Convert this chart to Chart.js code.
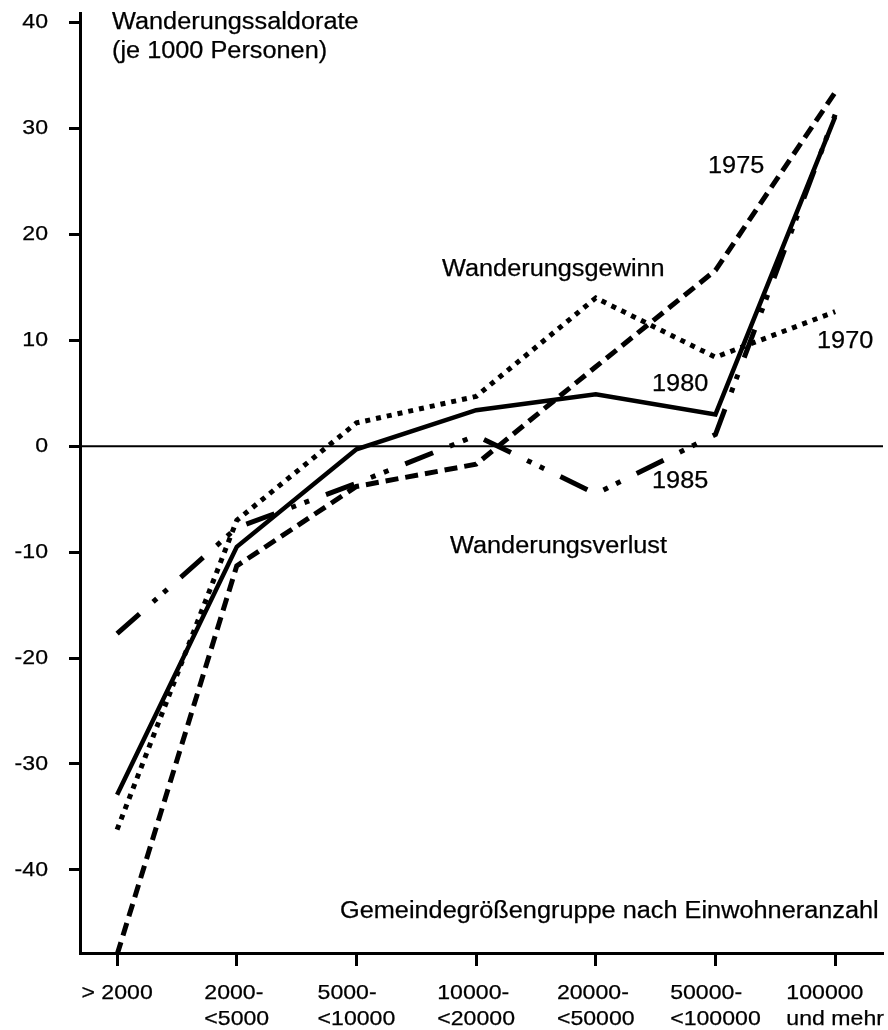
<!DOCTYPE html>
<html lang="de">
<head>
<meta charset="utf-8">
<title>Wanderungssaldorate nach Gemeindegrößengruppe</title>
<script src="https://cdn.jsdelivr.net/npm/chart.js@4.4.1/dist/chart.umd.min.js"></script>
<style>
  html, body { margin: 0; padding: 0; background: #fff; }
  #wrap { width: 888px; height: 1030px; }
</style>
</head>
<body>
<div id="wrap"><canvas id="chart" width="888" height="1030"></canvas></div>
<script>
// Gemeindegrößengruppen (x-Achse)
const categories = [
  ['> 2000'],
  ['2000-', '<5000'],
  ['5000-', '<10000'],
  ['10000-', '<20000'],
  ['20000-', '<50000'],
  ['50000-', '<100000'],
  ['100000', 'und mehr'],
]
const yTicks = [-40, -30, -20, -10, 0, 10, 20, 30, 40]

// Wanderungssaldorate je 1000 Personen
const werte1970 = [-36.2, -7.0, 2.2, 4.7, 14.0, 8.4, 12.7]
const werte1975 = [-48.0, -11.3, -3.8, -1.7, 7.5, 16.6, 33.4]
const werte1980 = [-32.9, -9.5, -0.3, 3.4, 4.9, 3.0, 31.1]
const werte1985 = [-17.7, -7.7, -3.5, 1.0, -4.5, 1.1, 31.3]

const FONT = '"Liberation Sans", Arial, sans-serif'
const STRETCH = 1.1

function drawText(ctx, text, x, y, align, size) {
  ctx.save()
  ctx.font = size + 'px ' + FONT
  ctx.fillStyle = '#000'
  ctx.strokeStyle = '#000'
  ctx.lineWidth = 0.25
  ctx.textBaseline = 'middle'
  ctx.textAlign = align
  ctx.translate(x, y)
  ctx.scale(STRETCH, 1)
  ctx.fillText(text, 0, 0)
  ctx.strokeText(text, 0, 0)
  ctx.restore()
}

function textBreite(ctx, text, size) {
  ctx.save()
  ctx.font = size + 'px ' + FONT
  const w = ctx.measureText(text).width * STRETCH
  ctx.restore()
  return w
}

function punkte(werte) {
  return werte.map((v, i) => ({ x: i, y: v }))
}

// Nulllinie, Achsenbeschriftungen und Texte
const beschriftung = {
  id: 'beschriftung',
  beforeDatasetsDraw(chart) {
    const ctx = chart.ctx
    const y0 = chart.scales.y.getPixelForValue(0)
    ctx.save()
    ctx.strokeStyle = '#000'
    ctx.lineWidth = 2
    ctx.beginPath()
    ctx.moveTo(chart.chartArea.left, y0)
    ctx.lineTo(chart.chartArea.right, y0)
    ctx.stroke()
    ctx.restore()
  },
  afterDraw(chart) {
    const ctx = chart.ctx
    const sx = chart.scales.x
    const sy = chart.scales.y

    yTicks.forEach((t) => {
      drawText(ctx, String(t), 48, sy.getPixelForValue(t), 'right', 21)
    })

    // Zeilen linksbündig, Block mittig unter dem Teilstrich
    categories.forEach((lines, i) => {
      const x = sx.getPixelForValue(i)
      const breite = Math.max(...lines.map((l) => textBreite(ctx, l, 21)))
      lines.forEach((line, j) => {
        drawText(ctx, line, x - breite / 2, 993.5 + j * 26, 'left', 21)
      })
    })

    drawText(ctx, 'Wanderungssaldorate', 112, 23, 'left', 23)
    drawText(ctx, '(je 1000 Personen)', 112, 52, 'left', 23)
    drawText(ctx, 'Wanderungsgewinn', 442, 270, 'left', 23)
    drawText(ctx, 'Wanderungsverlust', 450, 547, 'left', 23)
    drawText(ctx, '1975', 708, 167, 'left', 23)
    drawText(ctx, '1970', 817, 342, 'left', 23)
    drawText(ctx, '1980', 652, 385, 'left', 23)
    drawText(ctx, '1985', 652, 482, 'left', 23)
    drawText(ctx, 'Gemeindegrößengruppe nach Einwohneranzahl', 340, 912, 'left', 23)
  },
}

const linie = {
  borderColor: '#000',
  backgroundColor: '#000',
  pointRadius: 0,
  fill: false,
  tension: 0,
  borderCapStyle: 'butt',
  borderJoinStyle: 'miter',
}

const ctx = document.getElementById('chart').getContext('2d')
const chart = new Chart(ctx, {
  type: 'line',
  data: {
    datasets: [
      { ...linie, label: '1970', data: punkte(werte1970), borderWidth: 5, borderDash: [5, 6] },
      { ...linie, label: '1975', data: punkte(werte1975), borderWidth: 5, borderDash: [13, 7] },
      { ...linie, label: '1980', data: punkte(werte1980), borderWidth: 4.5 },
      { ...linie, label: '1985', data: punkte(werte1985), borderWidth: 5, borderDash: [30, 18, 5, 9, 5, 18] },
    ],
  },
  options: {
    responsive: false,
    animation: false,
    devicePixelRatio: 1,
    layout: { padding: { top: 13, right: 5, left: 0, bottom: 0 } },
    plugins: {
      legend: { display: false },
      tooltip: { enabled: false },
    },
    scales: {
      x: {
        type: 'linear',
        min: -0.31,
        max: 6.4,
        afterFit: (scale) => { scale.height = 77 },
        border: { display: true, color: '#000', width: 3 },
        grid: {
          drawOnChartArea: false,
          drawTicks: true,
          tickLength: 13,
          tickWidth: 3,
          tickColor: '#000',
        },
        ticks: { stepSize: 1, includeBounds: false, display: false },
      },
      y: {
        min: -47.85,
        max: 40.9,
        afterFit: (scale) => { scale.width = 80 },
        border: { display: true, color: '#000', width: 3 },
        grid: {
          drawOnChartArea: false,
          drawTicks: true,
          tickLength: 11,
          tickWidth: 3,
          tickColor: '#000',
        },
        ticks: { stepSize: 10, includeBounds: false, display: false },
      },
    },
  },
  plugins: [beschriftung],
})
</script>
</body>
</html>
